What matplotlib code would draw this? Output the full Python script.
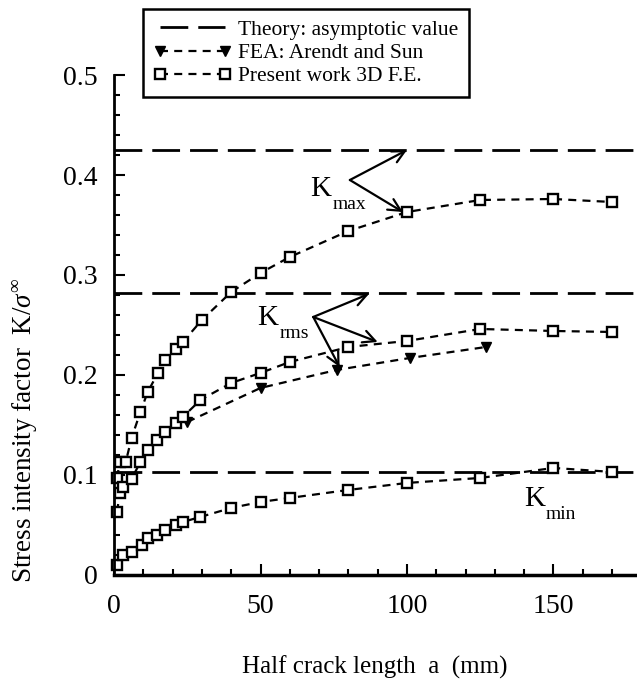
import numpy as np
import matplotlib
matplotlib.use('Agg')
import matplotlib.pyplot as plt
from matplotlib.ticker import MultipleLocator

plt.rcParams['font.family'] = ['Liberation Serif', 'DejaVu Serif']
plt.rcParams['mathtext.fontset'] = 'custom'
plt.rcParams['mathtext.rm'] = 'Liberation Serif'
plt.rcParams['mathtext.it'] = 'Liberation Serif:italic'

# half crack length a (mm) and K/sigma values
kmax_a = [1, 2, 4, 6, 9, 11.5, 15, 17.5, 21, 23.5, 30, 40, 50, 60, 80, 100, 125, 150, 170]
kmax = [0.097, 0.113, 0.113, 0.137, 0.163, 0.183, 0.202, 0.215, 0.226, 0.233, 0.255,
        0.283, 0.302, 0.318, 0.344, 0.363, 0.375, 0.376, 0.373]

krms_a = [1, 2, 3, 6, 9, 11.5, 14.5, 17.5, 21, 23.5, 29.5, 40, 50, 60, 80, 100, 125, 150, 170]
krms = [0.063, 0.082, 0.088, 0.096, 0.113, 0.125, 0.135, 0.143, 0.152, 0.158, 0.175,
        0.192, 0.202, 0.213, 0.228, 0.234, 0.246, 0.244, 0.243]

kmin_a = [1, 3, 6, 9.5, 11.5, 14.5, 17.5, 21, 23.5, 29.5, 40, 50, 60, 80, 100, 125, 150, 170]
kmin = [0.010, 0.020, 0.023, 0.030, 0.037, 0.040, 0.045, 0.050, 0.053, 0.058, 0.067,
        0.073, 0.077, 0.085, 0.092, 0.097, 0.107, 0.103]

fea_a = [25, 50, 76, 101, 127]
fea = [0.153, 0.187, 0.205, 0.217, 0.228]

theory = [0.425, 0.282, 0.103]

fig = plt.figure(figsize=(6.37, 6.82), dpi=100)
ax = fig.add_axes([0.179, 0.157, 0.821, 0.733])

data_dash = (3.6, 2.8)
for i, val in enumerate(theory):
    ax.axhline(val, color='black', lw=2.0, dashes=(10, 3.6),
               label='Theory: asymptotic value' if i == 0 else None)

ax.plot(fea_a, fea, color='black', lw=1.6, dashes=data_dash, marker='v', ms=7,
        mfc='black', mec='black', clip_on=False, label='FEA: Arendt and Sun')

for i, (xa, ya) in enumerate([(kmax_a, kmax), (krms_a, krms), (kmin_a, kmin)]):
    ax.plot(xa, ya, color='black', lw=1.6, dashes=data_dash, marker='s', ms=7,
            mfc='white', mec='black', mew=1.7, clip_on=False,
            label='Present work 3D F.E.' if i == 0 else None)

ax.set_xlim(0, 178.5)
ax.set_ylim(0, 0.5)
ax.xaxis.set_minor_locator(MultipleLocator(10))
ax.yaxis.set_minor_locator(MultipleLocator(0.02))
ax.set_xticks([0, 50, 100, 150])
ax.set_xticklabels(['0', '50', '100', '150'])
ax.set_yticks([0, 0.1, 0.2, 0.3, 0.4, 0.5])
ax.set_yticklabels(['0', '0.1', '0.2', '0.3', '0.4', '0.5'])
ax.tick_params(which='both', direction='in', width=1.5, labelsize=20, top=False, right=False)
ax.tick_params(which='major', length=8)
ax.tick_params(axis='x', which='major', pad=14)
ax.tick_params(axis='y', which='major', pad=12)
ax.tick_params(which='minor', length=4)
ax.spines['top'].set_visible(False)
ax.spines['right'].set_visible(False)
ax.spines['left'].set_linewidth(2)
ax.spines['bottom'].set_linewidth(2.5)


def k_label(x, y, sub):
    ax.text(x, y, 'K', fontsize=21, ha='right', va='center')
    ax.annotate(sub, xy=(x, y), xytext=(1, -11), textcoords='offset points',
                fontsize=14, ha='left', va='center')


arrow = dict(arrowstyle='->', color='black', lw=1.6, mutation_scale=22, shrinkA=0, shrinkB=0)
k_label(74, 0.386, 'max')
ax.annotate('', xy=(100, 0.425), xytext=(80.5, 0.395), arrowprops=arrow)
ax.annotate('', xy=(98.6, 0.363), xytext=(80.5, 0.395), arrowprops=arrow)

k_label(56, 0.257, 'rms')
ax.annotate('', xy=(87, 0.281), xytext=(68, 0.258), arrowprops=arrow)
ax.annotate('', xy=(90, 0.233), xytext=(68, 0.258), arrowprops=arrow)
ax.annotate('', xy=(77, 0.208), xytext=(68, 0.258), arrowprops=arrow)

k_label(147, 0.076, 'min')

leg = fig.legend(loc='upper left', bbox_to_anchor=(143 / 637, 1 - 9 / 682),
                 borderaxespad=0, numpoints=2,
                 fontsize=15.5, handlelength=3.6, labelspacing=0.15,
                 borderpad=0.5, handletextpad=0.3, fancybox=False, framealpha=1)
leg.get_frame().set_edgecolor('black')
leg.get_frame().set_linewidth(1.8)

fig.text(25 / 637, 1 - 430 / 682, r'Stress intensity factor  K/$\sigma^{\infty}$',
         rotation=90, fontsize=19.5, ha='center', va='center')
fig.text(375 / 637, 1 - 667 / 682, 'Half crack length  a  (mm)',
         fontsize=18, ha='center', va='center')

fig.savefig('out.png', dpi=100)
